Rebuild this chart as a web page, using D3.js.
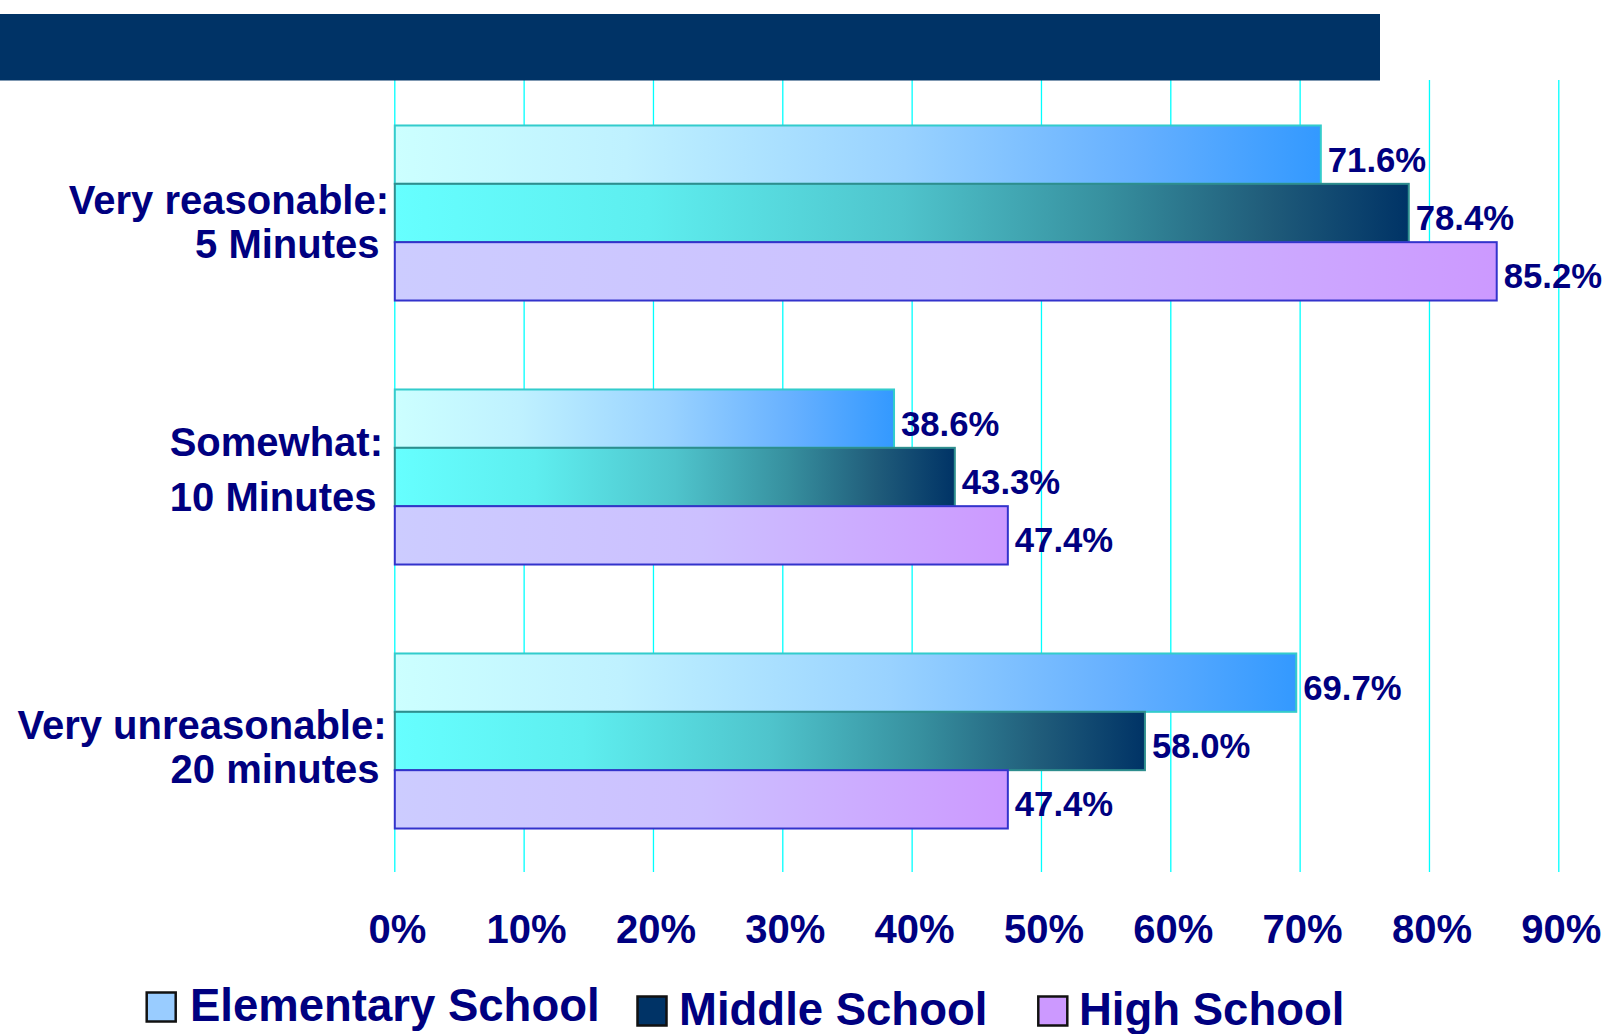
<!DOCTYPE html>
<html>
<head>
<meta charset="utf-8">
<script src="https://cdn.jsdelivr.net/npm/d3@7"></script>
<style>
  html, body { margin: 0; padding: 0; background: #ffffff; }
  svg { display: block; }
  text { font-family: "Liberation Sans", Arial, sans-serif; font-weight: bold; fill: #000080; }
</style>
</head>
<body>
<svg id="chart" width="1608" height="1034"></svg>
<script>
// ---- data ----
const categories = ["Very reasonable: 5 Minutes", "Somewhat: 10 Minutes", "Very unreasonable: 20 minutes"];
const categoryLines = [["Very reasonable:", "5 Minutes"], ["Somewhat:", "10 Minutes"], ["Very unreasonable:", "20 minutes"]];
const seriesNames = ["Elementary School", "Middle School", "High School"];
const elementary = [71.6, 38.6, 69.7];
const middle = [78.4, 43.3, 58.0];
const high = [85.2, 47.4, 47.4];
const tickValues = [0, 10, 20, 30, 40, 50, 60, 70, 80, 90];
const tickLabels = ["0%", "10%", "20%", "30%", "40%", "50%", "60%", "70%", "80%", "90%"];

const seriesValues = [elementary, middle, high];

// ---- styles ----
const gradStops = [
  [[0, "#CCFFFF"], [0.25, "#BFF1FF"], [0.55, "#99D2FF"], [0.8, "#66B0FF"], [1, "#3399FF"]],
  [[0, "#66FFFF"], [0.25, "#5EEEEF"], [0.5, "#4FC4CC"], [0.7, "#37909F"], [0.86, "#205C7A"], [1, "#003366"]],
  [[0, "#CCCCFF"], [0.5, "#CCC0FF"], [1, "#CC99FF"]]
];
const strokes = ["#33CCCC", "#2E8E8E", "#3333CC"];
const legendFills = ["#99CCFF", "#003366", "#CC99FF"];

const svg = d3.select("#chart");
const defs = svg.append("defs");
gradStops.forEach((stops, i) => {
  const g = defs.append("linearGradient").attr("id", "grad" + i)
    .attr("x1", "0%").attr("x2", "100%").attr("y1", "0%").attr("y2", "0%");
  stops.forEach(s => g.append("stop").attr("offset", s[0]).attr("stop-color", s[1]));
});

// ---- scales ----
const x = d3.scaleLinear().domain([0, 90]).range([394.8, 1558.8]);
const y = d3.scaleBand().domain(categories).range([81, 873]).paddingInner(0.337).paddingOuter(0.1685);
const ySub = d3.scaleBand().domain(seriesNames).range([0, y.bandwidth()]).padding(0);

// ---- gridlines ----
svg.append("g").selectAll("line").data(tickValues).join("line")
  .attr("x1", d => x(d)).attr("x2", d => x(d))
  .attr("y1", 80).attr("y2", 872)
  .attr("stroke", "#00FFFF").attr("stroke-width", 1.3);

// ---- banner ----
svg.append("rect").attr("x", 0).attr("y", 14).attr("width", 1380).attr("height", 66.5).attr("fill", "#003366");

// ---- bars ----
const groups = svg.append("g").selectAll("g").data(categories).join("g")
  .attr("transform", d => `translate(0,${y(d)})`);

groups.each(function(cat, ci) {
  const g = d3.select(this);
  seriesNames.forEach((s, si) => {
    const v = seriesValues[si][ci];
    g.append("rect")
      .attr("x", x(0)).attr("y", ySub(s))
      .attr("width", x(v) - x(0)).attr("height", ySub.bandwidth())
      .attr("fill", `url(#grad${si})`)
      .attr("stroke", strokes[si]).attr("stroke-width", 2);
  });
  seriesNames.forEach((s, si) => {
    const v = seriesValues[si][ci];
    g.append("text")
      .attr("x", x(v) + 7)
      .attr("y", ySub(s) + ySub.bandwidth() / 2 + 17)
      .attr("font-size", 34.7)
      .text(v.toFixed(1) + "%");
  });
});

// ---- category labels ----
const labelLayout = [
  [{ dy: 1, x: 389 }, { dy: 45, x: 379.5 }],
  [{ dy: -21, x: 383 }, { dy: 34, x: 376.5 }],
  [{ dy: -2, x: 386.5 }, { dy: 41.5, x: 379.5 }]
];
categories.forEach((c, ci) => {
  const cy = y(c) + y.bandwidth() / 2;
  categoryLines[ci].forEach((line, li) => {
    svg.append("text")
      .attr("x", labelLayout[ci][li].x)
      .attr("y", cy + labelLayout[ci][li].dy)
      .attr("text-anchor", "end")
      .attr("font-size", 40)
      .text(line);
  });
});

// ---- x axis ----
const axis = d3.axisBottom(x).tickValues(tickValues).tickSize(0)
  .tickFormat((d, i) => tickLabels[i]);
const ax = svg.append("g").attr("transform", "translate(2,0)").call(axis);
ax.select(".domain").remove();
ax.selectAll("text")
  .attr("y", 942.5).attr("dy", null)
  .attr("font-size", 40)
  .attr("font-family", "'Liberation Sans', Arial, sans-serif")
  .attr("font-weight", "bold")
  .attr("fill", "#000080");

// ---- legend ----
const legendItems = [
  { sq: 146.7, tx: 190, base: 1021 },
  { sq: 637.5, tx: 679, base: 1025 },
  { sq: 1038.3, tx: 1079, base: 1025 }
];
seriesNames.forEach((s, si) => {
  const L = legendItems[si];
  svg.append("rect")
    .attr("x", L.sq).attr("y", L.base - 28.5)
    .attr("width", 29).attr("height", 29)
    .attr("fill", legendFills[si]).attr("stroke", "#111111").attr("stroke-width", 2.5);
  svg.append("text")
    .attr("x", L.tx).attr("y", L.base)
    .attr("font-size", 45.5)
    .text(s);
});
</script>
</body>
</html>
